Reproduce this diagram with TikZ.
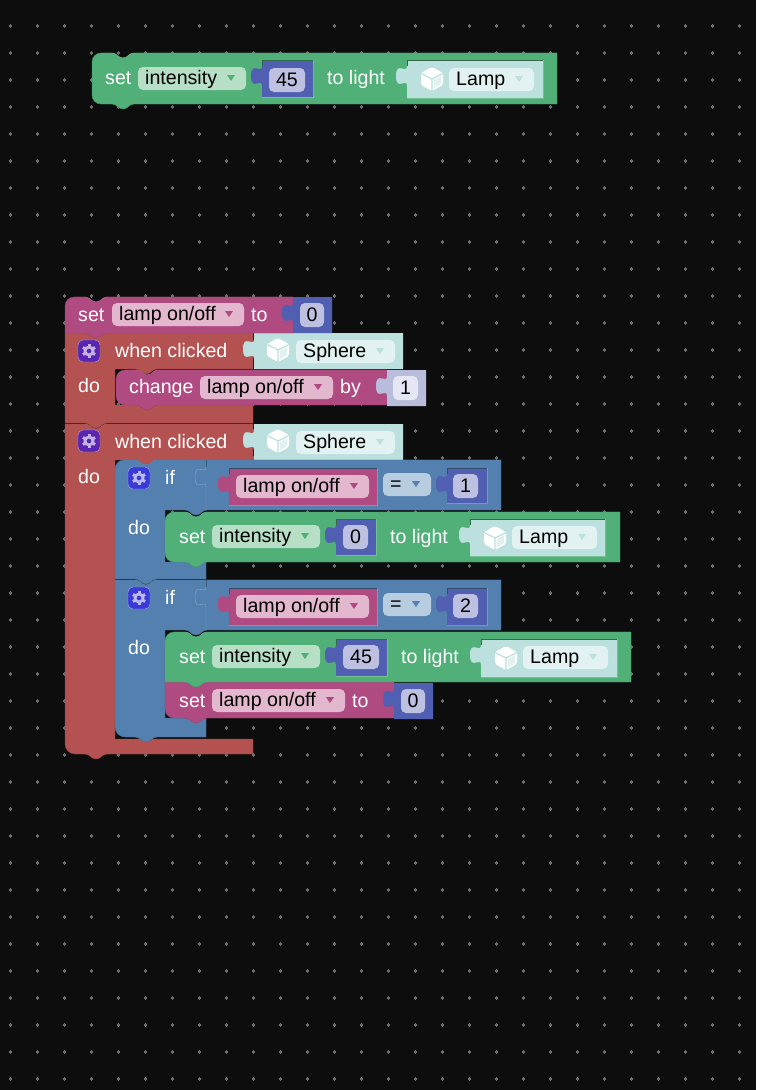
\documentclass[tikz,border=0pt]{standalone}
\usepackage{fontspec}
\setmainfont{Liberation Sans}
\definecolor{canvas}{HTML}{0D0D0D}
\definecolor{gridmark}{HTML}{6E6E6E}
\definecolor{greenblk}{HTML}{50B078}
\definecolor{greenfld}{HTML}{B6DFC6}
\definecolor{pinkblk}{HTML}{B04B82}
\definecolor{pinkfld}{HTML}{E3B8CF}
\definecolor{redblk}{HTML}{B35250}
\definecolor{blueblk}{HTML}{5380AF}
\definecolor{bluefld}{HTML}{B8CCDF}
\definecolor{numblk}{HTML}{505FB2}
\definecolor{numfld}{HTML}{BDC0E0}
\definecolor{litblk}{HTML}{B9BDDC}
\definecolor{litfld}{HTML}{E4E6F3}
\definecolor{objblk}{HTML}{BCE0DE}
\definecolor{objfld}{HTML}{E2F2F2}
\definecolor{purplebox}{HTML}{5A25B0}
\definecolor{indigobox}{HTML}{3A3AD8}
\tikzset{
  lbl/.style={anchor=base west,inner sep=0pt,text=white,font=\fontsize{19.6}{22}\selectfont},
  fldtxt/.style={lbl,text=black},
  numtxt/.style={lbl,anchor=base,text=black},
}
% pieces of a block outline
\newcommand\notchat[2]{-- ({#1-11},#2) .. controls ({#1-6},#2) and ({#1-5},{#2+5}) .. ({#1},{#2+5}) .. controls ({#1+5},{#2+5}) and ({#1+6},#2) .. ({#1+11},#2)}
\newcommand\tabat[2]{-- ({#1+11},#2) .. controls ({#1+6},#2) and ({#1+5},{#2+5}) .. ({#1},{#2+5}) .. controls ({#1-5},{#2+5}) and ({#1-6},#2) .. ({#1-11},#2)}
\newcommand\plugup[2]{-- ({#1},{#2+20}) .. controls ({#1},{#2+11}) and ({#1-11},{#2+26}) .. ({#1-11},{#2+10}) .. controls ({#1-11},{#2-6}) and ({#1},{#2+9}) .. ({#1},#2)}
\newcommand\cornertl[3]{-- (#1,{#2+#3}) .. controls (#1,{#2+#3*.45}) and ({#1+#3*.45},#2) .. ({#1+#3},#2)}
\newcommand\cornerbl[3]{-- ({#1+#3},#2) .. controls ({#1+#3*.45},#2) and (#1,{#2-#3*.45}) .. (#1,{#2-#3})}
% colour, x0, y0, x1, y1, top radius, bottom radius
\newcommand\stackblk[7]{
  \draw[fill=#1,draw=#1!85!black] (#2,{#3+20}) \cornertl{#2}{#3}{#6} \notchat{#2+31}{#3} -- (#4,#3) -- (#4,#5) \tabat{#2+31}{#5} \cornerbl{#2}{#5}{#7} -- cycle;
  \draw[#1!85!white] ({#2+#6},#3) \notchat{#2+31}{#3} -- (#4,#3);
}
% colour, x0, y0, x1, y1
\newcommand\valblk[5]{
  \fill[#1] (#2,#3) -- (#4,#3) -- (#4,#5) -- (#2,#5) -- (#2,{#3+27}) \plugup{#2}{#3+6} -- cycle;
}
% parent colour, x0, y0, x1, y1
\newcommand\inset[5]{
  \draw[#1!60!black] (#2,{#3+6}) -- (#2,#3) -- (#4,#3);
  \draw[#1!80!white] (#4,#3) -- (#4,#5) -- (#2,#5);
}
% name, field colour, arrow colour, x0, y0, x1, text
\newcommand\dropfld[7]{
  \fill[#2,rounded corners=5pt] (#4,#5) rectangle (#6,{#5+23});
  \fill[#3] ({#6-19},{#5+8}) -- ({#6-11},{#5+8}) -- ({#6-15},{#5+14}) -- cycle;
  \node[fldtxt] (#1) at ({#4+7},{#5+17.5}) {#7};
}
% name, field colour, x0, y0, x1, text
\newcommand\numfield[6]{
  \fill[#2,rounded corners=5pt] (#3,#4) rectangle (#5,{#4+24});
  \node[numtxt] (#1) at ({(#3+#5)/2},{#4+18}) {#6};
}
\newcommand\cubeicon[3]{
  \fill[white,rounded corners=2pt] (#1,{#2-12}) -- ({#1+11},{#2-6}) -- ({#1+11},{#2+6}) -- (#1,{#2+12}) -- ({#1-11},{#2+6}) -- ({#1-11},{#2-6}) -- cycle;
  \fill[#3!45!white] ({#1+1.5},{#2+1.5}) -- ({#1+9},{#2-3}) -- ({#1+9},{#2+5}) -- ({#1+1.5},{#2+9.5}) -- cycle;
  \draw[#3,line width=1.2pt] ({#1-10},{#2-5}) -- (#1,#2) -- ({#1+10},{#2-5}) (#1,#2) -- (#1,{#2+11});
}
\newcommand\gearicon[3]{
  \draw[fill=#3,draw=#3!45!white,rounded corners=5pt] ({#1-11},{#2-11}) rectangle ({#1+11},{#2+11});
  \foreach \a in {30,90,...,330}
    \draw[#3!35!white,line width=3pt] ({#1+4*cos(\a)},{#2+4*sin(\a)}) -- ({#1+7*cos(\a)},{#2+7*sin(\a)});
  \draw[#3!35!white,line width=2.8pt] (#1,#2) circle (4);
}
\begin{document}
\begin{tikzpicture}[x=1pt,y=-1pt]
  \fill[canvas] (0,0) rectangle (756,1090);
  \useasboundingbox (0,0) rectangle (756,1090);
  \foreach \i in {0,...,27}
    \foreach \j in {0,...,39}
      \draw[gridmark,line width=1.2pt] ({10.5+27*\i-1.9},{26+27*\j}) -- ({10.5+27*\i+1.9},{26+27*\j}) ({10.5+27*\i},{26+27*\j-1.9}) -- ({10.5+27*\i},{26+27*\j+1.9});

  % loose block at the top
  \stackblk{greenblk}{92}{53}{557}{104}{9}{9}
  \node[lbl] (topset) at (105,84) {set};
  \dropfld{topint}{greenfld}{greenblk}{138}{67}{246}{intensity}
  \valblk{numblk}{262}{60}{313}{97}
  \inset{greenblk}{262}{60}{313}{97}
  \numfield{topnum}{numfld}{269}{68}{305}{45}
  \node[lbl] (toplight) at (327,84) {to light};
  \valblk{objblk}{407}{60}{543}{98}
  \inset{greenblk}{407}{60}{543}{98}
  \cubeicon{432}{79}{objblk}
  \dropfld{toplamp}{objfld}{objblk}{449}{68}{534}{Lamp}

  % second when clicked
  \draw[fill=redblk,draw=redblk!85!black] (65,424) \notchat{96}{424} -- (253,424) -- (253,460) \tabat{146}{460} -- (115,460) -- (115,739) -- (253,739) -- (253,754) \tabat{96}{754} \cornerbl{65}{754}{10} -- cycle;
  \draw[redblk!85!white] (65,424) \notchat{96}{424} -- (253,424);
  \gearicon{89}{441}{purplebox}
  \node[lbl] (clicktwo) at (115,448) {when clicked};
  \node[lbl] (dotwo) at (78,483) {do};
  \valblk{objblk}{254}{424}{403}{460}
  \cubeicon{278}{441}{objblk}
  \dropfld{spheretwo}{objfld}{objblk}{296}{431}{395}{Sphere}

  % second if
  \draw[fill=blueblk,draw=blueblk!85!black] (115,580) \notchat{146}{580} -- (501,580) -- (501,630) \tabat{196}{630} -- (165,630) -- (165,718) -- (206,718) -- (206,737) \tabat{146}{737} \cornerbl{115}{737}{10} -- cycle;
  \draw[blueblk!85!white] (115,580) \notchat{146}{580} -- (501,580);
  \draw[blueblk!70!black] (206,580) -- (206,587);
  \draw[blueblk!70!white] (206,630) \plugup{206}{587};
  \gearicon{139}{598}{indigobox}
  \node[lbl] (iftwo) at (165,604) {if};
  \node[lbl] (doifb) at (128,654) {do};
  \valblk{pinkblk}{229}{588}{377}{625}
  \inset{blueblk}{229}{588}{377}{625}
  \dropfld{lamptwo}{pinkfld}{pinkblk}{236}{595}{369}{lamp on/off}
  \dropfld{eqtwo}{bluefld}{blueblk}{383}{593}{431}{=}
  \valblk{numblk}{447}{588}{487}{625}
  \inset{blueblk}{447}{588}{487}{625}
  \numfield{numtwo}{numfld}{453}{594}{478}{2}

  \stackblk{pinkblk}{165}{682}{394}{718}{0}{9}
  \node[lbl] (setoff) at (179,707) {set};
  \dropfld{lampoff}{pinkfld}{pinkblk}{212}{689}{345}{lamp on/off}
  \node[lbl] (tooff) at (352,707) {to};
  \valblk{numblk}{394}{683}{433}{719}
  \numfield{numoff}{numfld}{401}{689}{425}{0}

  \stackblk{greenblk}{165}{632}{631}{682}{9}{0}
  \node[lbl] (setgreen) at (179,663) {set};
  \dropfld{intgreen}{greenfld}{greenblk}{212}{645}{320}{intensity}
  \valblk{numblk}{336}{639}{387}{676}
  \inset{greenblk}{336}{639}{387}{676}
  \numfield{numgreen}{numfld}{343}{645}{379}{45}
  \node[lbl] (lightgreen) at (401,663) {to light};
  \valblk{objblk}{481}{639}{617}{677}
  \inset{greenblk}{481}{639}{617}{677}
  \cubeicon{506}{658}{objblk}
  \dropfld{lampgreen}{objfld}{objblk}{523}{646}{608}{Lamp}

  % first if
  \draw[fill=blueblk,draw=blueblk!85!black] (115,480) \cornertl{115}{460}{9} \notchat{146}{460} -- (501,460) -- (501,510) \tabat{196}{510} -- (165,510) -- (165,562) -- (206,562) -- (206,579) \tabat{146}{579} -- (115,579) -- cycle;
  \draw[blueblk!85!white] (124,460) \notchat{146}{460} -- (501,460);
  \draw[blueblk!70!black] (206,460) -- (206,467);
  \draw[blueblk!70!white] (206,510) \plugup{206}{467};
  \gearicon{139}{478}{indigobox}
  \node[lbl] (ifone) at (165,484) {if};
  \node[lbl] (doifa) at (128,534) {do};
  \valblk{pinkblk}{229}{468}{377}{505}
  \inset{blueblk}{229}{468}{377}{505}
  \dropfld{lampone}{pinkfld}{pinkblk}{236}{475}{369}{lamp on/off}
  \dropfld{eqone}{bluefld}{blueblk}{383}{473}{431}{=}
  \valblk{numblk}{447}{468}{487}{503}
  \inset{blueblk}{447}{468}{487}{503}
  \numfield{numone}{numfld}{453}{474}{478}{1}

  \stackblk{greenblk}{165}{512}{620}{562}{9}{9}
  \node[lbl] (setzero) at (179,543) {set};
  \dropfld{intzero}{greenfld}{greenblk}{212}{525}{320}{intensity}
  \valblk{numblk}{336}{519}{376}{555}
  \inset{greenblk}{336}{519}{376}{555}
  \numfield{numzero}{numfld}{343}{525}{368}{0}
  \node[lbl] (lightzero) at (390,543) {to light};
  \valblk{objblk}{470}{519}{605}{556}
  \inset{greenblk}{470}{519}{605}{556}
  \cubeicon{495}{538}{objblk}
  \dropfld{lampzero}{objfld}{objblk}{512}{526}{597}{Lamp}

  % first when clicked
  \draw[fill=redblk,draw=redblk!85!black] (65,333) \notchat{96}{333} -- (253,333) -- (253,369) \tabat{146}{369} -- (115,369) -- (115,405) -- (253,405) -- (253,423) \tabat{96}{423} -- (65,423) -- cycle;
  \draw[redblk!85!white] (65,333) \notchat{96}{333} -- (253,333);
  \gearicon{89}{351}{purplebox}
  \node[lbl] (clickone) at (115,357) {when clicked};
  \node[lbl] (doone) at (78,392) {do};
  \valblk{objblk}{254}{333}{403}{369}
  \cubeicon{278}{350}{objblk}
  \dropfld{sphereone}{objfld}{objblk}{296}{340}{395}{Sphere}

  \stackblk{pinkblk}{116}{370}{387}{405}{9}{9}
  \node[lbl] (change) at (129,393) {change};
  \dropfld{lampby}{pinkfld}{pinkblk}{200}{376}{333}{lamp on/off}
  \node[lbl] (by) at (340,393) {by};
  \valblk{litblk}{387}{370}{426}{406}
  \numfield{numby}{litfld}{393}{376}{418}{1}

  % variable on top of the stack
  \stackblk{pinkblk}{65}{297}{293}{333}{9}{0}
  \node[lbl] (setvar) at (78,321) {set};
  \dropfld{lampvar}{pinkfld}{pinkblk}{112}{303}{244}{lamp on/off}
  \node[lbl] (tovar) at (251,321) {to};
  \valblk{numblk}{293}{297}{332}{333}
  \numfield{numvar}{numfld}{300}{303}{324}{0}
\end{tikzpicture}
\end{document}
